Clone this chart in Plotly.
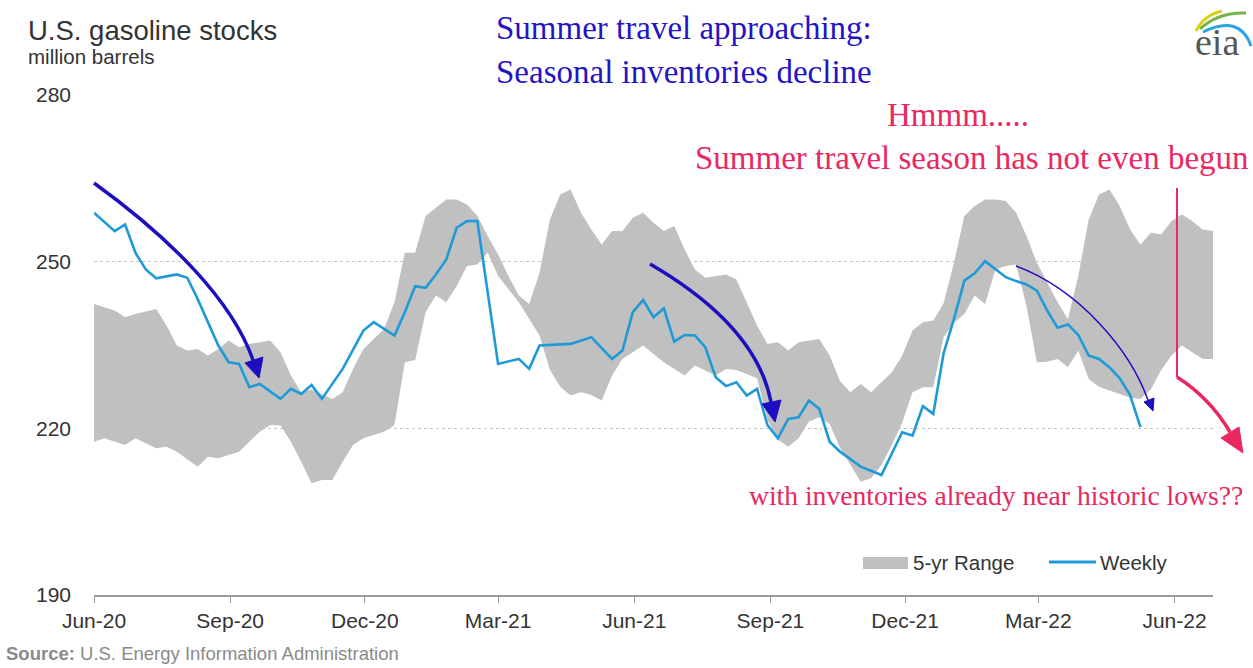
import plotly.graph_objects as go
import pandas as pd

# ---------------- data ----------------
start_date = "2020-06-01"   # week 0

weekly_week = [0, 2, 3, 4, 5, 6, 8, 9, 10, 11, 12, 13, 14, 15, 16, 18, 19, 20, 21, 22,
               24, 26, 27, 29, 30, 31, 32, 33, 34, 35, 36, 37, 39, 41, 42, 43, 46, 48,
               50, 51, 52, 53, 54, 55, 56, 57, 58, 59, 60, 61, 62, 63, 64, 65, 66, 67,
               68, 69, 70, 71, 72, 74, 76, 78, 79, 80, 81, 82, 83, 84, 85, 86, 87, 88,
               89, 90, 91, 92, 93, 94, 95, 96, 97, 98, 99, 100, 101]
weekly_value = [258.8, 255.5, 256.7, 251.6, 248.6, 247.0, 247.7, 247.1, 243.3, 239.1,
                234.9, 231.9, 231.6, 227.4, 228.0, 225.3, 227.1, 226.2, 227.8, 225.3,
                230.7, 237.6, 239.1, 236.7, 240.9, 245.6, 245.3, 247.7, 250.4, 256.1,
                257.3, 257.3, 231.6, 232.5, 230.7, 234.9, 235.2, 236.4, 232.5, 234.0,
                240.9, 243.1, 240.0, 241.6, 235.6, 236.8, 236.7, 234.6, 229.2, 227.6,
                228.3, 225.9, 227.1, 220.6, 218.2, 221.7, 222.0, 225.0, 223.5, 217.6,
                215.8, 213.1, 211.6, 219.3, 218.7, 224.0, 222.6, 233.5, 239.7, 246.6,
                247.9, 250.1, 248.6, 247.2, 246.5, 245.9, 244.8, 241.2, 238.1, 238.7,
                236.8, 233.1, 232.5, 231.0, 229.0, 226.0, 220.2]

upper_week = [0, 2, 3, 4, 6, 7, 8, 9, 10, 11, 12, 13, 14, 15, 16, 17, 18, 19, 20, 21,
              23, 24, 25, 26, 28, 29, 30, 31, 32, 33, 34, 35, 36, 37, 38, 39, 40, 41,
              42, 43, 44, 45, 46, 47, 48, 49, 50, 51, 52, 53, 54, 55, 56, 57, 58, 59,
              61, 62, 63, 64, 65, 66, 67, 68, 70, 71, 72, 73, 74, 75, 77, 78, 79, 80,
              81, 82, 83, 84, 85, 86, 87, 88, 89, 90, 91, 92, 93, 94, 95, 96, 97, 98,
              99, 100, 101, 102, 103, 104, 105, 106, 107, 108]
upper_value = [242.4, 241.2, 240.0, 240.6, 241.5, 238.5, 234.9, 234.0, 234.3, 233.1,
               234.3, 235.8, 234.6, 235.2, 235.5, 235.8, 233.7, 229.5, 226.5, 227.0,
               225.3, 226.5, 230.7, 234.3, 237.9, 242.7, 251.6, 251.6, 258.2, 259.7,
               261.2, 261.2, 260.3, 258.2, 254.6, 251.3, 247.4, 243.9, 242.4, 248.0,
               257.6, 262.1, 263.0, 258.8, 255.8, 253.1, 255.5, 255.5, 257.9, 258.8,
               257.0, 255.5, 256.4, 252.2, 248.6, 247.1, 247.7, 246.8, 242.7, 238.5,
               235.2, 235.5, 234.0, 235.5, 236.1, 233.1, 228.5, 226.5, 228.0, 226.5,
               230.1, 233.1, 237.6, 239.1, 239.4, 242.5, 249.8, 258.2, 260.0, 261.2,
               261.2, 260.9, 258.8, 254.6, 249.8, 246.2, 242.7, 239.7, 247.4, 257.6,
               262.1, 263.0, 260.0, 255.8, 253.1, 255.2, 254.9, 257.3, 258.5, 257.3,
               255.8, 255.5]

lower_week = [0, 1, 3, 4, 6, 7, 8, 10, 11, 12, 14, 15, 16, 17, 18, 19, 20, 21, 22, 23,
              24, 25, 26, 28, 29, 30, 31, 32, 33, 34, 35, 36, 37, 38, 39, 41, 42, 43,
              44, 45, 46, 47, 48, 49, 50, 51, 53, 54, 55, 57, 58, 59, 60, 61, 62, 63,
              64, 65, 66, 67, 68, 69, 70, 71, 72, 73, 74, 75, 76, 77, 78, 79, 80, 81,
              82, 83, 84, 85, 86, 87, 88, 89, 90, 91, 92, 93, 94, 95, 96, 97, 98, 99,
              100, 101, 102, 103, 104, 105, 106, 107, 108]
lower_value = [217.6, 218.2, 217.0, 218.2, 216.4, 216.7, 215.8, 213.1, 214.9, 214.6,
               215.8, 217.6, 219.4, 220.6, 220.5, 217.6, 214.0, 210.1, 210.7, 210.7,
               214.0, 217.0, 218.2, 219.4, 220.6, 231.9, 232.3, 240.9, 243.9, 242.7,
               245.6, 249.2, 249.5, 251.6, 247.4, 242.7, 239.7, 236.7, 230.5, 227.5,
               225.9, 226.5, 226.0, 225.0, 229.5, 232.5, 234.9, 233.4, 231.9, 229.5,
               231.3, 230.4, 229.5, 230.7, 230.5, 229.8, 229.0, 221.5, 218.0, 216.7,
               218.2, 221.2, 222.0, 220.8, 216.5, 213.5, 210.4, 211.0, 213.4, 217.0,
               221.0, 226.5, 227.4, 227.4, 236.4, 239.0, 240.6, 243.9, 242.4, 248.6,
               249.2, 249.5, 242.0, 231.9, 232.0, 232.5, 231.0, 234.0, 228.9, 227.5,
               226.8, 226.2, 225.5, 225.3, 227.0, 230.5, 233.1, 234.9, 233.7, 232.5,
               232.5]

y_ticks = [190, 220, 250, 280]

# ---------------- build ----------------
base = pd.Timestamp(start_date)
def to_dates(weeks):
    return [base + pd.Timedelta(weeks=w) for w in weeks]

band_x = to_dates(upper_week) + to_dates(lower_week)[::-1]
band_y = upper_value + lower_value[::-1]

GRAY = "#c0c0c0"
BLUE = "#1e9bd7"
ARROW = "#1d0fbf"
TXTBLUE = "#2414c4"
PINK = "#e8285f"

fig = go.Figure()
fig.add_trace(go.Scatter(x=band_x, y=band_y, fill="toself", fillcolor=GRAY,
                         line=dict(width=0), mode="lines", name="5-yr Range",
                         hoverinfo="skip", showlegend=False))
fig.add_trace(go.Scatter(x=to_dates(weekly_week), y=weekly_value, mode="lines",
                         line=dict(color=BLUE, width=2.6), name="Weekly",
                         showlegend=False))

# pixel -> paper helpers (plot area: x 94..1213, y 95..595)
L, R, T, B = 94, 1213, 95, 595
def xp(x): return (x - L) / (R - L)
def yp(y): return (B - y) / (B - T)
def P(x, y): return f"{xp(x):.4f},{yp(y):.4f}"

shapes = []
def path(d, color, width, fill=None):
    s = dict(type="path", xref="paper", yref="paper", path=d,
             line=dict(color=color, width=width), layer="above")
    if fill:
        s["fillcolor"] = fill
    shapes.append(s)

# blue curved arrows
path(f"M{P(94,183)} C{P(170,238)} {P(232,300)} {P(253,360)}", ARROW, 3.5)
path(f"M{P(245,363)} L{P(263,357)} L{P(259,378)} Z", ARROW, 1, ARROW)
path(f"M{P(650,264)} C{P(712,300)} {P(760,345)} {P(771,402)}", ARROW, 3.5)
path(f"M{P(762,404)} L{P(781,400)} L{P(775,422)} Z", ARROW, 1, ARROW)
path(f"M{P(1016,266)} C{P(1080,290)} {P(1130,350)} {P(1148,400)}", ARROW, 1.5)
path(f"M{P(1144,402)} L{P(1154,398)} L{P(1153,411)} Z", ARROW, 1, ARROW)
# pink line + arrow
path(f"M{P(1177,188)} L{P(1177,377)}", PINK, 2)
path(f"M{P(1177,377)} Q{P(1210,398)} {P(1230,432)}", PINK, 3.5)
path(f"M{P(1221,438)} L{P(1239,427)} L{P(1243,453)} Z", PINK, 1, PINK)

# manual legend
shapes.append(dict(type="rect", xref="paper", yref="paper",
                   x0=xp(863), x1=xp(908), y0=yp(569), y1=yp(557),
                   fillcolor=GRAY, line=dict(width=0)))
path(f"M{P(1049,562)} L{P(1096,562)}", BLUE, 3)

# eia logo arcs
path(f"M{P(1196,31)} Q{P(1204,15)} {P(1222,11)}", "#d9d21c", 3)
path(f"M{P(1200,29)} Q{P(1218,12)} {P(1246,13)}", "#72b648", 3)
path(f"M{P(1203,32)} Q{P(1240,14)} {P(1251,46)}", "#2ea4e3", 3)

annotations = []
def txt(x, y, text, size, color, family="Liberation Sans", xanchor="left"):
    annotations.append(dict(xref="paper", yref="paper", x=xp(x), y=yp(y), text=text,
                            showarrow=False, xanchor=xanchor, yanchor="middle",
                            font=dict(family=family, size=size, color=color)))

txt(26, 30, "U.S. gasoline stocks", 27.5, "#333333")
txt(26, 57, "million barrels", 20.5, "#333333")
txt(4, 654, "<b>Source:</b> U.S. Energy Information Administration", 18.5, "#8a8a8a")
txt(911, 562, "5-yr Range", 20.5, "#333333")
txt(1098, 562, "Weekly", 20.5, "#333333")
txt(494, 28, "Summer travel approaching:", 33, TXTBLUE, "Liberation Serif")
txt(494, 72, "Seasonal inventories decline", 33, TXTBLUE, "Liberation Serif")
txt(958, 115, "Hmmm.....", 33, PINK, "Liberation Serif", "center")
txt(1251, 158, "Summer travel season has not even begun", 33, PINK, "Liberation Serif", "right")
txt(1245, 495, "with inventories already near historic lows??", 27.6, PINK, "Liberation Serif", "right")
txt(1217, 42, "eia", 38, "#555555", "Liberation Serif", "center")

fig.update_layout(
    width=1253, height=668,
    margin=dict(l=L, r=1253 - R, t=T, b=668 - B),
    paper_bgcolor="white", plot_bgcolor="white",
    showlegend=False,
    font=dict(family="Liberation Sans", size=20, color="#333333"),
    shapes=shapes, annotations=annotations,
    xaxis=dict(type="date", range=[start_date, "2022-06-27"],
               tick0=start_date, dtick="M3", tickformat="%b-%y",
               showgrid=False, showline=True, linecolor="#9a9a9a", linewidth=1.5,
               ticks="outside", ticklen=6, tickcolor="#9a9a9a",
               tickfont=dict(size=21, color="#333333"), zeroline=False),
    yaxis=dict(range=[190, 280], tickvals=y_ticks, ticktext=[str(v) for v in y_ticks],
               showgrid=True, gridcolor="#c4c4c4", griddash="dot", gridwidth=1,
               zeroline=False, showline=False, ticks="",
               ticklabelstandoff=22,
               tickfont=dict(size=21, color="#333333")),
)

fig.write_html("out.html", config={"displayModeBar": False},
               post_script="document.body.style.margin='0';document.body.style.overflow='hidden';")
